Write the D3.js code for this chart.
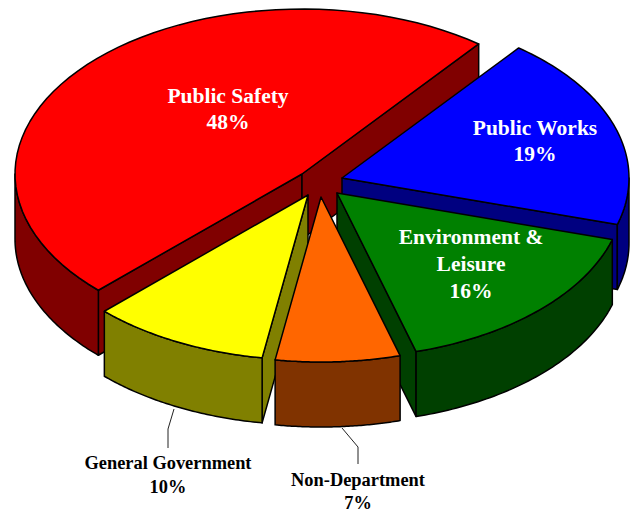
<!DOCTYPE html>
<html>
<head>
<meta charset="utf-8">
<style>
  html, body { margin: 0; padding: 0; background: #fff; }
  svg { display: block; }
  text { font-family: "Liberation Serif", serif; font-weight: bold; text-anchor: middle; }
</style>
<script src="https://cdnjs.cloudflare.com/ajax/libs/d3/7.8.5/d3.min.js"></script>
</head>
<body>
<script>
// Budget shares, clockwise from the blue wedge
const categories = ["Public Works", "Environment & Leisure", "Non-Department", "General Government", "Public Safety"];
const shares = [19, 16, 7, 10, 48];
const topColors = ["#0000ff", "#008000", "#ff6600", "#ffff00", "#ff0000"];
const wallColors = ["#000080", "#004000", "#803300", "#808000", "#800000"];

// How far each wedge is pulled out of the pie, in pixels
const explodeX = [20, 15, -1, -14, -20];
const explodeY = [-8, 7, 11, 9, -12];

// Painting order, back to front, as indexes into the lists above
const paintOrder = [4, 0, 1, 3, 2];

// Label lines, their anchors and the callout leaders
const labelLines = [["Public Works", "19%"], ["Environment &", "Leisure", "16%"], ["Non-Department", "7%"], ["General Government", "10%"], ["Public Safety", "48%"]];
const labelX = [535, 471, 358, 168, 228];
const labelY = [135, 244, 486, 469, 103];
const labelSize = [21.5, 21.5, 18.4, 18.4, 21.5];
const labelLeading = [26, 27, 23, 24, 26];
const labelFill = ["#fff", "#fff", "#000", "#000", "#fff"];
const leaders = [null, null, [[342, 428], [358, 447], [358, 464]], [[174, 409], [168, 429], [168, 448]], null];

const width = 631, height = 512;
const cx = 322, cy = 186, rx = 287, ry = 165, depth = 65;
const firstAngle = 38 * Math.PI / 180;

const svg = d3.select("body").append("svg").attr("width", width).attr("height", height);

const pie = d3.pie().sort(null).startAngle(firstAngle).endAngle(firstAngle + 2 * Math.PI);
const wedges = pie(shares);

// Ellipse scales: pie angle 0 points up the screen, angles grow clockwise
const sx = d3.scaleLinear().domain([-1, 1]).range([-rx, rx]);
const sy = d3.scaleLinear().domain([-1, 1]).range([-ry, ry]);
const rimPoint = (a, i, drop = 0) => [
  cx + explodeX[i] + sx(Math.sin(a)),
  cy + explodeY[i] + sy(-Math.cos(a)) + drop
];
const apex = (i, drop = 0) => [cx + explodeX[i], cy + explodeY[i] + drop];
const line = d3.line();
const closed = pts => line(pts) + "Z";
const arcPoints = (a0, a1, i, drop = 0) =>
  d3.range(0, 61).map(k => rimPoint(a0 + (a1 - a0) * k / 60, i, drop));

const drawPath = (d, fill) => svg.append("path")
  .attr("d", d)
  .attr("fill", fill)
  .attr("stroke", "#000")
  .attr("stroke-width", 1.5)
  .attr("stroke-linejoin", "round");

paintOrder.forEach(i => {
  const { startAngle: a0, endAngle: a1 } = wedges[i];

  // Cut faces that turn toward the viewer
  if (Math.sin(a0) < 0) {
    drawPath(closed([apex(i), rimPoint(a0, i), rimPoint(a0, i, depth), apex(i, depth)]), wallColors[i]);
  }
  if (Math.sin(a1) > 0) {
    drawPath(closed([apex(i), rimPoint(a1, i), rimPoint(a1, i, depth), apex(i, depth)]), wallColors[i]);
  }

  // Outer rim: only the part on the near half of the ellipse shows
  const turn = 2 * Math.PI;
  [[Math.PI / 2, 3 * Math.PI / 2], [Math.PI / 2 + turn, 3 * Math.PI / 2 + turn]].forEach(([n0, n1]) => {
    const v0 = Math.max(a0, n0), v1 = Math.min(a1, n1);
    if (v1 > v0) {
      const upper = arcPoints(v0, v1, i);
      const lower = arcPoints(v0, v1, i, depth).reverse();
      drawPath(closed(upper.concat(lower)), wallColors[i]);
    }
  });

  // Top face
  drawPath(closed([apex(i)].concat(arcPoints(a0, a1, i))), topColors[i]);
});

// Callout leaders
leaders.forEach(pts => {
  if (pts) {
    svg.append("path").attr("d", line(pts)).attr("fill", "none")
      .attr("stroke", "#222").attr("stroke-width", 1);
  }
});

// Labels
labelLines.forEach((lines, i) => {
  const t = svg.append("text").attr("font-size", labelSize[i]).attr("fill", labelFill[i]);
  lines.forEach((s, k) => {
    t.append("tspan").attr("x", labelX[i]).attr("y", labelY[i] + k * labelLeading[i]).text(s);
  });
});
</script>
</body>
</html>
